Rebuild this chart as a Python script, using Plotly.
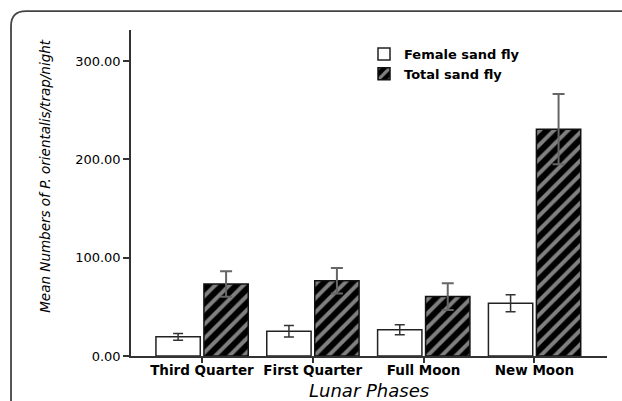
import plotly.graph_objects as go

# Lunar phase categories and mean catches (per trap per night)
phases = ["Third Quarter", "First Quarter", "Full Moon", "New Moon"]
female_mean = [19.5, 25.2, 26.6, 53.6]
female_err = [3.5, 5.9, 5.1, 8.6]
total_mean = [73.3, 76.6, 60.4, 230.7]
total_err = [13.0, 13.0, 13.6, 35.8]

y_tickvals = [0, 100, 200, 300]
y_ticktext = ["0.00", "100.00", "200.00", "300.00"]

W, H = 622, 401
ML, MR, MT, MB = 131, 15, 30, 44.5
PW, PH = W - ML - MR, H - MT - MB


def px_x(p):
    return (p - ML) / PW


def px_y(p):
    return (H - MB - p) / PH


fig = go.Figure()

fig.add_trace(go.Bar(
    x=phases, y=female_mean, name="Female sand fly",
    offset=-0.415, width=0.40,
    marker=dict(color="white", line=dict(color="#222", width=1.5)),
    error_y=dict(type="data", array=female_err, color="#333", thickness=1.5, width=5),
))

fig.add_trace(go.Bar(
    x=phases, y=total_mean, name="Total sand fly",
    offset=0.018, width=0.40,
    marker=dict(
        color="black",
        line=dict(color="#111", width=1.5),
        pattern=dict(shape="/", fgcolor="white", bgcolor="black", size=10, solidity=0.4),
    ),
    error_y=dict(type="data", array=total_err, color="#666", thickness=2, width=6),
))

frame_r = 15
fx, fy = px_x(11), px_y(11)
rx, ry = frame_r / PW, frame_r / PH
frame_path = (
    f"M {fx},{px_y(H + 20)} L {fx},{fy - ry} "
    f"Q {fx},{fy} {fx + rx},{fy} L {px_x(W + 20)},{fy}"
)

fig.update_layout(
    width=W, height=H,
    margin=dict(l=ML, r=MR, t=MT, b=MB, pad=0),
    paper_bgcolor="white", plot_bgcolor="white",
    barmode="overlay",
    showlegend=True,
    font=dict(family="DejaVu Sans", color="black"),
    legend=dict(
        x=px_x(364), y=px_y(39), xanchor="left", yanchor="top",
        bgcolor="rgba(0,0,0,0)", borderwidth=0,
        font=dict(family="DejaVu Sans", size=13, weight="bold", color="black"),
        itemwidth=30, tracegroupgap=0,
    ),
    xaxis=dict(
        range=[-0.64, 3.655],
        showline=True, linecolor="#333", linewidth=1.5,
        ticks="outside", ticklen=5, tickwidth=1.5, tickcolor="#333",
        ticklabelstandoff=-4,
        showgrid=False, zeroline=False,
        tickfont=dict(family="DejaVu Sans", size=13.5, weight="bold", color="black"),
    ),
    yaxis=dict(
        range=[0, 331.5],
        showline=True, linecolor="#333", linewidth=1.5,
        ticks="outside", ticklen=6, tickwidth=1.5, tickcolor="#333",
        showgrid=False, zeroline=False,
        tickvals=y_tickvals, ticktext=y_ticktext,
        tickfont=dict(family="DejaVu Sans", size=13, color="black"),
    ),
    annotations=[
        dict(
            text="Mean Numbers of <i>P. orientalis</i>/trap/night",
            xref="paper", yref="paper", x=px_x(45), y=px_y(176),
            xanchor="center", yanchor="middle", textangle=-90, showarrow=False,
            font=dict(family="DejaVu Sans", size=13.5, style="italic", color="black"),
        ),
        dict(
            text="Lunar Phases",
            xref="paper", yref="paper", x=0.5, y=px_y(391),
            xanchor="center", yanchor="middle", showarrow=False,
            font=dict(family="DejaVu Sans", size=18, style="italic", color="black"),
        ),
    ],
    shapes=[
        dict(type="path", path=frame_path, xref="paper", yref="paper",
             line=dict(color="#444", width=1.8), layer="below"),
    ],
)

fig.write_html("out.html")
